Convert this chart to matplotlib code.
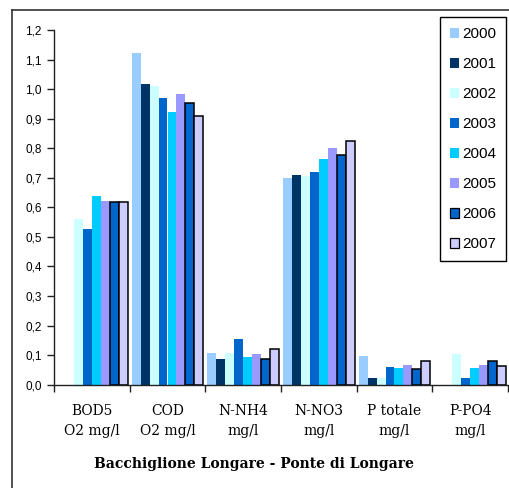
import numpy as np
import matplotlib
matplotlib.use("Agg")
import matplotlib.pyplot as plt
from matplotlib.lines import Line2D
from matplotlib.patches import Patch

categories = ["BOD5\nO2 mg/l", "COD\nO2 mg/l", "N-NH4\nmg/l", "N-NO3\nmg/l", "P totale\nmg/l", "P-PO4\nmg/l"]
years = ["2000", "2001", "2002", "2003", "2004", "2005", "2006", "2007"]
nan = np.nan
v2000 = [nan, 1.123, 0.108, 0.699, 0.098, nan]
v2001 = [nan, 1.018, 0.087, 0.711, 0.024, nan]
v2002 = [0.560, 1.012, 0.107, 0.705, 0.023, 0.105]
v2003 = [0.527, 0.970, 0.155, 0.720, 0.060, 0.024]
v2004 = [0.640, 0.921, 0.093, 0.762, 0.055, 0.055]
v2005 = [0.623, 0.985, 0.103, 0.801, 0.065, 0.066]
v2006 = [0.617, 0.952, 0.086, 0.777, 0.053, 0.080]
v2007 = [0.617, 0.910, 0.122, 0.824, 0.080, 0.063]
series = [v2000, v2001, v2002, v2003, v2004, v2005, v2006, v2007]
yticks = [0.0, 0.1, 0.2, 0.3, 0.4, 0.5, 0.6, 0.7, 0.8, 0.9, 1.0, 1.1, 1.2]
ytick_labels = ["0,0", "0,1", "0,2", "0,3", "0,4", "0,5", "0,6", "0,7", "0,8", "0,9", "1,0", "1,1", "1,2"]
title = "Bacchiglione Longare - Ponte di Longare"

colors = ["#99CCFF", "#003366", "#CCFFFF", "#0066CC", "#00CCFF", "#9999FF", "#0066CC", "#CCCCFF"]
edged = [False, False, False, False, False, False, True, True]

W, H = 509, 488
fig = plt.figure(figsize=(W / 100, H / 100), dpi=100)
fig.patch.set_facecolor("white")
ax = fig.add_axes([54 / W, (H - 384.7) / H, (508 - 54) / W, (384.7 - 30) / H])

x = np.arange(len(categories))
w = 0.118
handles = []
for i, (vals, c, e) in enumerate(zip(series, colors, edged)):
    off = (i - 3.5) * w
    ax.bar(x + off, vals, width=w, color=c,
           edgecolor="black" if e else "none", linewidth=1.1 if e else 0, zorder=2)
    handles.append(Patch(facecolor=c, edgecolor="black" if e else c, linewidth=0.9 if e else 0, label=years[i]))

ax.set_xlim(-0.5, len(categories) - 0.5)
ax.set_ylim(0, 1.2)
ax.set_yticks(yticks)
ax.set_yticklabels(ytick_labels, fontsize=8.5, family="Liberation Sans")
ax.set_xticks(np.arange(-0.5, len(categories), 1.0))
ax.set_xticklabels([])
ax.set_xticks(x, minor=True)
ax.set_xticklabels(categories, minor=True, fontsize=10, family="DejaVu Serif", linespacing=1.5)
ax.tick_params(axis="x", which="minor", length=0, pad=14)
ax.tick_params(axis="x", which="major", length=5, width=1, color="#222222")
ax.tick_params(axis="y", length=5, width=1, color="#222222", pad=4)
for s in ["top", "right"]:
    ax.spines[s].set_visible(False)
for s in ["left", "bottom"]:
    ax.spines[s].set_color("#222222")
    ax.spines[s].set_linewidth(1.0)

leg = fig.legend(handles=handles, loc="upper left", bbox_to_anchor=(440 / W, 1 - 17 / H),
                 frameon=True, fancybox=False, edgecolor="black", framealpha=1,
                 prop={"family": "Liberation Sans", "size": 11},
                 handlelength=0.62, handleheight=0.62, handletextpad=0.2,
                 labelspacing=1.05, borderpad=0.65, borderaxespad=0)
leg.get_frame().set_linewidth(1.0)

fig.text(254 / W, 1 - 464 / H, title, ha="center", va="center", fontsize=10,
         family="DejaVu Serif", fontweight="bold")

fig.add_artist(Line2D([12 / W, 12 / W], [0, 1 - 10 / H], color="#333333", linewidth=1.2))
fig.add_artist(Line2D([12 / W, 1], [1 - 10 / H, 1 - 10 / H], color="#333333", linewidth=1.2))

fig.savefig("out.png", dpi=100)
